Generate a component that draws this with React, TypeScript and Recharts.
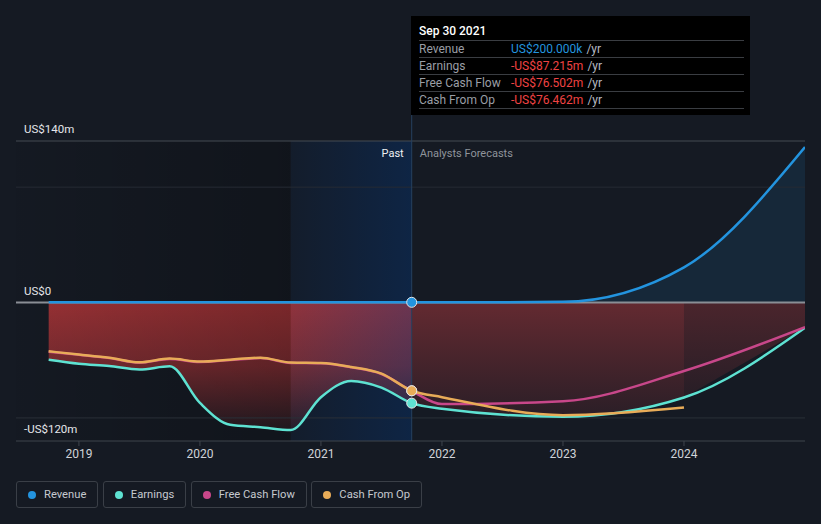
import React from 'react';
import {
  ComposedChart,
  Area,
  Line,
  XAxis,
  YAxis,
  ReferenceArea,
  ReferenceLine,
  ReferenceDot,
} from 'recharts';

// past values, quarterly (trailing twelve months, US$m)
const pastDates = [2018.75, 2019, 2019.25, 2019.5, 2019.75, 2020, 2020.25, 2020.5, 2020.75, 2021, 2021.25, 2021.5, 2021.75];
const pastRevenue = [0.2, 0.2, 0.2, 0.2, 0.2, 0.2, 0.2, 0.2, 0.2, 0.2, 0.2, 0.2, 0.2];
const pastEarnings = [-49.5, -53, -55, -58, -55.3, -87, -106, -108, -110.5, -82, -68, -73.7, -87.215];
const pastFcf = [-42.6, -45.3, -48.1, -52.1, -48.9, -51.5, -49.8, -48.1, -52.3, -52.7, -56.1, -61.9, -76.502];
const pastCfo = [-42.3, -45, -47.8, -51.8, -48.6, -51.2, -49.5, -47.8, -52, -52.4, -55.8, -61.6, -76.462];

// analyst forecasts, yearly
const forecastDates = [2022, 2023, 2024, 2025];
const forecastRevenue = [0.2, 0.6, 30.5, 134.7];
const forecastEarnings = [-92, -99, -82.3, -21.9];
const forecastFcf = [-88, -85.5, -59.3, -21.3];
const forecastCfo = [-82, -97.6, -91, null];

const xTicks = [2019, 2020, 2021, 2022, 2023, 2024];
const yLabels = [140, 0, -120];

const PAST_END = 2021.75;
const HIGHLIGHT_START = 2020.75;
const FAR_START = 2024;
const X_DOMAIN = [2018.48, 2025];
const Y_DOMAIN = [-120, 140];

const COLORS = {
  revenue: '#2394df',
  earnings: '#5ee2d2',
  fcf: '#c8478a',
  cfo: '#e8ac58',
};

const dates = [...pastDates, ...forecastDates];
const revenue = [...pastRevenue, ...forecastRevenue];
const earnings = [...pastEarnings, ...forecastEarnings];
const fcf = [...pastFcf, ...forecastFcf];
const cfo = [...pastCfo, ...forecastCfo];

const data = dates.map((t, i) => ({
  t,
  revenue: revenue[i],
  earnings: earnings[i],
  fcf: fcf[i],
  cfo: cfo[i],
  earnPast: t <= PAST_END ? earnings[i] : null,
  earnFc: t >= PAST_END && t <= FAR_START ? earnings[i] : null,
  earnFar: t >= FAR_START ? earnings[i] : null,
}));

const last = pastDates.length - 1;

const fmtY = (v: number) => (v === 0 ? 'US$0' : v < 0 ? `-US$${Math.abs(v)}m` : `US$${v}m`);

// value label drawn just above its grid line
const YLabel = (props: any) => {
  const { viewBox, value } = props;
  return (
    <text x={viewBox.x + 8} y={viewBox.y - 12} fill="#e4e6ea" fontSize={11.5} dominantBaseline="central">
      {fmtY(value)}
    </text>
  );
};

const DividerLabel = (props: any) => {
  const { viewBox } = props;
  const x = viewBox.x;
  const y = viewBox.y + 12;
  return (
    <g fontSize={11} dominantBaseline="central">
      <text x={x - 8} y={y} fill="#eef0f2" textAnchor="end">Past</text>
      <text x={x + 8} y={y} fill="#8f949b">Analysts Forecasts</text>
    </g>
  );
};

const tooltipRows = [
  { label: 'Revenue', value: 'US$200.000k', color: COLORS.revenue },
  { label: 'Earnings', value: '-US$87.215m', color: '#f04343' },
  { label: 'Free Cash Flow', value: '-US$76.502m', color: '#f04343' },
  { label: 'Cash From Op', value: '-US$76.462m', color: '#f04343' },
];

const legendItems = [
  { name: 'Revenue', color: COLORS.revenue },
  { name: 'Earnings', color: COLORS.earnings },
  { name: 'Free Cash Flow', color: COLORS.fcf },
  { name: 'Cash From Op', color: COLORS.cfo },
];

export default function App() {
  return (
    <div
      style={{
        position: 'absolute',
        left: 0,
        top: 0,
        width: 821,
        height: 524,
        background: '#151a23',
        fontFamily: 'Roboto, sans-serif',
        overflow: 'hidden',
      }}
    >
      <ComposedChart width={821} height={524} data={data} margin={{ top: 141, right: 16, bottom: 53, left: 16 }}>
        <defs>
          <linearGradient id="leftShade" x1="0" y1="0" x2="1" y2="0">
            <stop offset="0%" stopColor="#000" stopOpacity={0.03} />
            <stop offset="100%" stopColor="#000" stopOpacity={0.22} />
          </linearGradient>
          <linearGradient id="pastBand" x1="0" y1="0" x2="1" y2="0">
            <stop offset="0%" stopColor="#003c8c" stopOpacity={0.08} />
            <stop offset="100%" stopColor="#003c8c" stopOpacity={0.32} />
          </linearGradient>
          <linearGradient id="earnPastFill" x1="0" y1="0" x2="0" y2="1">
            <stop offset="0%" stopColor="#c83a3c" stopOpacity={0.76} />
            <stop offset="50%" stopColor="#c83a3c" stopOpacity={0.55} />
            <stop offset="100%" stopColor="#c83a3c" stopOpacity={0.1} />
          </linearGradient>
          <linearGradient id="earnFcFill" x1="0" y1="0" x2="0" y2="1">
            <stop offset="0%" stopColor="#c83e42" stopOpacity={0.44} />
            <stop offset="100%" stopColor="#c83e42" stopOpacity={0.12} />
          </linearGradient>
          <linearGradient id="earnFarFill" x1="0" y1="0" x2="0" y2="1">
            <stop offset="0%" stopColor="#c83e42" stopOpacity={0.3} />
            <stop offset="100%" stopColor="#c83e42" stopOpacity={0.1} />
          </linearGradient>
        </defs>

        <XAxis
          type="number"
          dataKey="t"
          domain={X_DOMAIN}
          ticks={xTicks}
          allowDataOverflow
          height={30}
          tickFormatter={(v: number) => String(v)}
          axisLine={{ stroke: '#3f444d', strokeWidth: 1 }}
          tickLine={{ stroke: '#3f444d' }}
          tickSize={5}
          tickMargin={3}
          tick={{ fill: '#d0d3d8', fontSize: 12 }}
        />
        <YAxis type="number" domain={Y_DOMAIN} allowDataOverflow hide />

        <ReferenceLine y={140} stroke="#454a53" />
        <ReferenceLine y={100} stroke="#262b34" />
        <ReferenceLine y={-100} stroke="#2a2f38" />

        <Area
          type="monotone"
          dataKey="revenue"
          stroke="none"
          fill={COLORS.revenue}
          fillOpacity={0.12}
          isAnimationActive={false}
        />
        <Area type="monotone" dataKey="earnPast" stroke="none" fill="url(#earnPastFill)" fillOpacity={1} isAnimationActive={false} />
        <Area type="monotone" dataKey="earnFc" stroke="none" fill="url(#earnFcFill)" fillOpacity={1} isAnimationActive={false} />
        <Area type="monotone" dataKey="earnFar" stroke="none" fill="url(#earnFarFill)" fillOpacity={1} isAnimationActive={false} />

        <ReferenceArea x1={X_DOMAIN[0]} x2={HIGHLIGHT_START} y1={Y_DOMAIN[0]} y2={Y_DOMAIN[1]} fill="url(#leftShade)" fillOpacity={1} stroke="none" />
        <ReferenceArea x1={HIGHLIGHT_START} x2={PAST_END} y1={Y_DOMAIN[0]} y2={Y_DOMAIN[1]} fill="url(#pastBand)" fillOpacity={1} stroke="none" />

        <ReferenceLine y={0} stroke="#8a8e95" strokeWidth={2} />
        <ReferenceLine
          segment={[{ x: PAST_END, y: Y_DOMAIN[0] }, { x: PAST_END, y: 247 }]}
          ifOverflow="visible"
          stroke="#26405f"
          strokeWidth={1}
        />
        <ReferenceLine x={PAST_END} stroke="none" label={<DividerLabel />} />

        {yLabels.map((v) => (
          <ReferenceLine key={`yl-${v}`} y={v} stroke="none" label={<YLabel value={v} />} />
        ))}

        <Line type="monotone" dataKey="revenue" stroke={COLORS.revenue} strokeWidth={2.5} dot={false} isAnimationActive={false} />
        <Line type="monotone" dataKey="earnings" stroke={COLORS.earnings} strokeWidth={2.5} dot={false} isAnimationActive={false} />
        <Line type="monotone" dataKey="fcf" stroke={COLORS.fcf} strokeWidth={2.5} dot={false} isAnimationActive={false} />
        <Line type="monotone" dataKey="cfo" stroke={COLORS.cfo} strokeWidth={2.5} dot={false} isAnimationActive={false} />

        <ReferenceDot x={PAST_END} y={pastFcf[last]} r={5} fill={COLORS.fcf} stroke="#e6e6e6" strokeWidth={1} />
        <ReferenceDot x={PAST_END} y={pastCfo[last]} r={5} fill={COLORS.cfo} stroke="#e6e6e6" strokeWidth={1} />
        <ReferenceDot x={PAST_END} y={pastEarnings[last]} r={5} fill={COLORS.earnings} stroke="#e6e6e6" strokeWidth={1} />
        <ReferenceDot x={PAST_END} y={pastRevenue[last]} r={5} fill={COLORS.revenue} stroke="#e6e6e6" strokeWidth={1} />
      </ComposedChart>

      <div
        style={{
          position: 'absolute',
          left: 411,
          top: 16,
          width: 339,
          height: 99,
          background: '#000',
          boxSizing: 'border-box',
          padding: '6px 6px 0 8px',
          fontSize: 12,
        }}
      >
        <div style={{ height: 18, lineHeight: '18px', color: '#fff', fontWeight: 500 }}>Sep 30 2021</div>
        {tooltipRows.map((r, i) => (
          <div
            key={r.label}
            style={{
              display: 'flex',
              height: 16,
              lineHeight: '16px',
              borderTop: '1px solid #3a3d42',
              borderBottom: i === tooltipRows.length - 1 ? '1px solid #3a3d42' : undefined,
            }}
          >
            <span style={{ width: 92, color: '#9a9ea5' }}>{r.label}</span>
            <span style={{ color: r.color }}>{r.value}</span>
            <span style={{ color: '#b6bac0', marginLeft: 4 }}>/yr</span>
          </div>
        ))}
      </div>

      <div style={{ position: 'absolute', left: 16, top: 481, display: 'flex', gap: 4.5 }}>
        {legendItems.map((it) => (
          <div
            key={it.name}
            style={{
              display: 'flex',
              alignItems: 'center',
              height: 25,
              border: '1px solid #3a3f47',
              borderRadius: 3,
              padding: '0 11px 0 11px',
              fontSize: 11.2,
              color: '#c5c9cf',
            }}
          >
            <span
              style={{
                width: 8,
                height: 8,
                borderRadius: '50%',
                background: it.color,
                marginRight: 8,
              }}
            />
            {it.name}
          </div>
        ))}
      </div>
    </div>
  );
}
